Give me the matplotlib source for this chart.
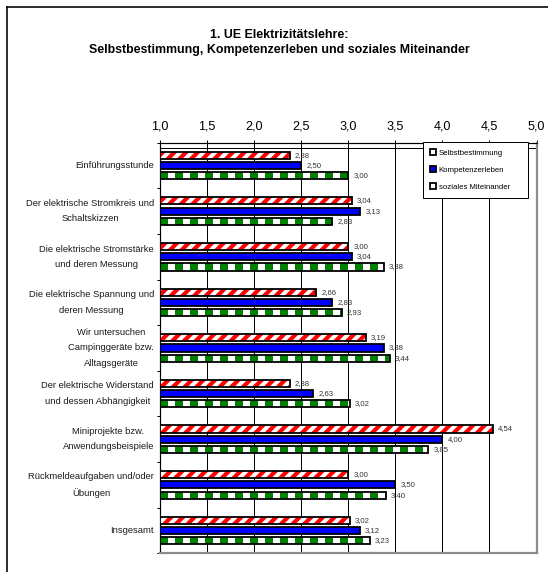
import numpy as np
import matplotlib
matplotlib.use("Agg")
import matplotlib.pyplot as plt
import matplotlib.transforms as mtransforms
from matplotlib.patches import Rectangle, Patch
from matplotlib.lines import Line2D

# ---- data -------------------------------------------------------------
categories = [
    "Einführungsstunde",
    "Der elektrische Stromkreis und\nSchaltskizzen",
    "Die elektrische Stromstärke\nund deren Messung",
    "Die elektrische Spannung und\nderen Messung",
    "Wir untersuchen\nCampinggeräte bzw.\nAlltagsgeräte",
    "Der elektrische Widerstand\nund dessen Abhängigkeit",
    "Miniprojekte bzw.\nAnwendungsbeispiele",
    "Rückmeldeaufgaben und/oder\nÜbungen",
    "Insgesamt",
]
selbstbestimmung = [2.38, 3.04, 3.00, 2.66, 3.19, 2.38, 4.54, 3.00, 3.02]
kompetenzerleben = [2.50, 3.13, 3.04, 2.83, 3.38, 2.63, 4.00, 3.50, 3.12]
soziales_miteinander = [3.00, 2.83, 3.38, 2.93, 3.44, 3.02, 3.85, 3.40, 3.23]
series_names = ["Selbstbestimmung", "Kompetenzerleben", "soziales Miteinander"]
x_ticks = [1.0, 1.5, 2.0, 2.5, 3.0, 3.5, 4.0, 4.5, 5.0]
x_tick_labels = ["1,0", "1,5", "2,0", "2,5", "3,0", "3,5", "4,0", "4,5", "5,0"]
title_lines = ["1. UE Elektrizitätslehre:",
               "Selbstbestimmung, Kompetenzerleben und soziales Miteinander"]

# ---- styling helpers ----------------------------------------------------
DPI = 140
W, H = 548, 572


def pt(px):
    """pixel length -> points at the figure dpi"""
    return px * 72.0 / DPI


plt.rcParams["font.family"] = ["Liberation Sans", "DejaVu Sans"]
plt.rcParams["hatch.linewidth"] = pt(4.2)

RED = "#ff0000"
BLUE = "#0000ff"
GREEN = "#008000"
EDGE_LW = pt(1.8)

fig = plt.figure(figsize=(W / DPI, H / DPI), dpi=DPI)
ax = fig.add_axes([160 / W, 1 - 553.3 / H, 376.5 / W, 410.6 / H])

ax.set_xlim(x_ticks[0], x_ticks[-1])
ax.set_ylim(len(categories) - 0.5, -0.5)

y = np.arange(len(categories))
base = x_ticks[0]
off = 0.225
bh = 0.158

# series 1: white with red diagonal stripes
v1 = np.array(selbstbestimmung)
ax.barh(y - off, v1 - base, left=base, height=bh, color="white",
        edgecolor=RED, linewidth=0, hatch="////", zorder=3)
ax.barh(y - off, v1 - base, left=base, height=bh, fill=False,
        edgecolor="black", linewidth=EDGE_LW, zorder=4)

# series 2: solid blue
v2 = np.array(kompetenzerleben)
ax.barh(y, v2 - base, left=base, height=bh, color=BLUE,
        edgecolor="black", linewidth=EDGE_LW, zorder=4)

# series 3: white with green blocks
v3 = np.array(soziales_miteinander)
ax.barh(y + off, v3 - base, left=base, height=bh, color="white",
        linewidth=0, zorder=3)
period = 15.0 / (376.5 / (x_ticks[-1] - x_ticks[0]))
for yi, v in zip(y + off, v3):
    for s in np.arange(base, v, period):
        w = min(period / 2, v - s)
        ax.add_patch(Rectangle((s, yi - bh / 2), w, bh, facecolor=GREEN,
                               linewidth=0, zorder=3.5))
ax.barh(y + off, v3 - base, left=base, height=bh, fill=False,
        edgecolor="black", linewidth=EDGE_LW, zorder=4)

# value labels
for offs, vals in ((-off, v1), (0, v2), (off, v3)):
    for yi, v in zip(y + offs, vals):
        ax.annotate(f"{v:.2f}".replace(".", ","), xy=(v, yi),
                    xytext=(pt(5), 0), textcoords="offset points",
                    ha="left", va="center", fontsize=4.0, color="#333333",
                    zorder=5)

# vertical gridlines
ax.vlines(x_ticks[1:-1], -0.5, len(categories) - 0.5, colors="black",
          linewidth=pt(1.0), zorder=1)

# x axis on top
ax.xaxis.tick_top()
ax.set_xticks(x_ticks)
ax.set_xticklabels(x_tick_labels)
ax.tick_params(axis="x", which="both", direction="out", length=pt(3.5),
               width=pt(1.0), labelsize=6.5, pad=pt(7), colors="black")

# category axis: ticks between groups, labels as text
ax.set_yticks(np.arange(-0.5, len(categories), 1.0))
ax.set_yticklabels([])
ax.tick_params(axis="y", direction="out", length=pt(3), width=pt(1.0))
lab_tr = mtransforms.blended_transform_factory(ax.transAxes, ax.transData)
for yi, lab in zip(y, categories):
    ax.text(-6 / 376.5, yi, lab, transform=lab_tr, ha="right", va="center",
            multialignment="center", fontsize=4.8, linespacing=1.9,
            color="#1a1a1a")

for side in ("top", "left"):
    ax.spines[side].set_color("black")
    ax.spines[side].set_linewidth(pt(1.2))
for side in ("right", "bottom"):
    ax.spines[side].set_color("#8c8c8c")
    ax.spines[side].set_linewidth(pt(2.2))

# plot-area top border just below the axis line
yy = 1 - (148.3 - 142.7) / 410.6
ax.plot([0, 1], [yy, yy], transform=ax.transAxes, color="black",
        linewidth=pt(1.0), zorder=2, clip_on=False)

# legend
handles = [
    Patch(facecolor="white", edgecolor="black", linewidth=EDGE_LW),
    Patch(facecolor=BLUE, edgecolor="black", linewidth=EDGE_LW),
    Patch(facecolor="white", edgecolor="black", linewidth=EDGE_LW),
]
leg = ax.legend(handles, series_names, loc="upper left",
                bbox_to_anchor=(423 / W, 1 - 199 / H, 105 / W, 57 / H),
                bbox_transform=fig.transFigure, mode="expand",
                borderaxespad=0, fontsize=4.0, fancybox=False,
                framealpha=1, labelspacing=1.2, handletextpad=0.3,
                handlelength=0.75, handleheight=0.75, borderpad=0.95)
leg.get_frame().set_edgecolor("black")
leg.get_frame().set_linewidth(pt(1.0))
leg.set_zorder(6)

# title
fig.text(279 / W, 1 - 35 / H, title_lines[0], ha="center", va="center",
         fontsize=6.4, fontweight="bold")
fig.text(279 / W, 1 - 50 / H, title_lines[1], ha="center", va="center",
         fontsize=6.4, fontweight="bold")

# outer frame
fig.add_artist(Line2D([7 / W, 1], [1 - 7 / H] * 2, color="black",
                      linewidth=pt(1.6), transform=fig.transFigure))
fig.add_artist(Line2D([7 / W] * 2, [0, 1 - 7 / H], color="black",
                      linewidth=pt(1.6), transform=fig.transFigure))

fig.savefig("out.png", dpi=DPI)
